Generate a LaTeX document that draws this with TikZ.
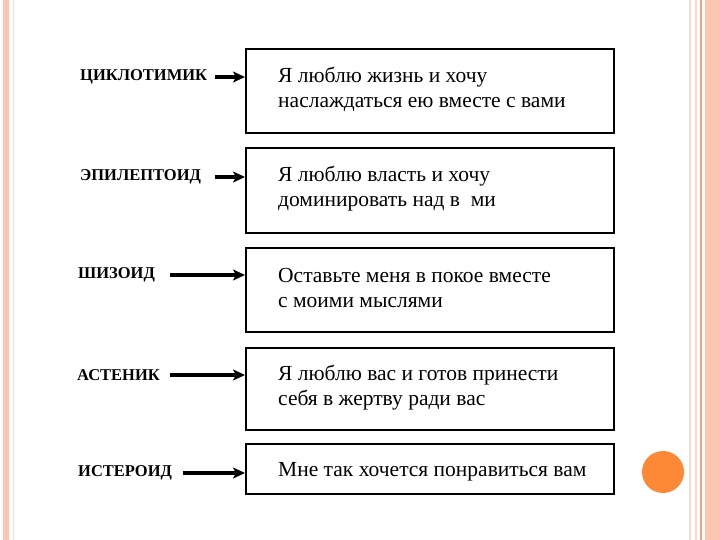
\documentclass[tikz,border=0pt]{standalone}
\usepackage{fontspec}
\setmainfont{Liberation Serif}
\usetikzlibrary{arrows.meta}
\definecolor{peach}{HTML}{FCC6B0}
\definecolor{peachline}{HTML}{F3A385}
\definecolor{paleline}{HTML}{F8DCCB}
\definecolor{dot}{HTML}{FD8835}
\begin{document}
\begin{tikzpicture}[x=1pt,y=-1pt,
  box/.style={draw=black,line width=2.4pt,rectangle,anchor=north west,
    minimum width=368pt,inner sep=0pt},
  txt/.style={anchor=west,inner sep=0pt,align=left,font=\fontsize{21.5}{25}\selectfont},
  lbl/.style={anchor=west,inner sep=0pt,font=\fontsize{16.5}{18}\selectfont\bfseries},
  arr/.style={line width=3.2pt,-{Stealth[length=12pt,width=11pt,inset=3pt]}}]
\useasboundingbox (0,0) rectangle (720,540);
\fill[white] (0,0) rectangle (720,540);
% slide decoration
\fill[peach] (3,0) rectangle (9,540);
\draw[paleline,line width=0.8pt] (13,0) -- (13,540);
\draw[paleline,line width=1.2pt] (690,0) -- (690,540);
\draw[paleline,line width=1.2pt] (696,0) -- (696,540);
\draw[peachline,line width=1.5pt] (701,0) -- (701,540);
\fill[peach] (705,0) rectangle (720,540);
\fill[dot] (663,472) circle (21);
% boxes
\node[box,minimum height=84pt] (b1) at (245,48) {};
\node[box,minimum height=85pt] (b2) at (245,147) {};
\node[box,minimum height=84pt] (b3) at (245,247) {};
\node[box,minimum height=82pt] (b4) at (245,347) {};
\node[box,minimum height=50pt] (b5) at (245,443) {};
\node[txt] (t1) at ([xshift=33pt,yshift=2pt]b1.west) {Я люблю жизнь и хочу\\наслаждаться ею вместе с вами};
\node[txt] (t2) at ([xshift=33pt,yshift=2pt]b2.west) {Я люблю власть и хочу\\доминировать над в\ \ ми};
\node[txt] (t3) at ([xshift=33pt,yshift=2pt]b3.west) {Оставьте меня в покое вместе\\с моими мыслями};
\node[txt] (t4) at ([xshift=33pt,yshift=2pt]b4.west) {Я люблю вас и готов принести\\себя в жертву ради вас};
\node[txt] (t5) at ([xshift=33pt,yshift=-3pt]b5.west) {Мне так хочется понравиться вам};
% labels
\node[lbl] (l1) at (80,77) {ЦИКЛОТИМИК};
\node[lbl] (l2) at (80,177) {ЭПИЛЕПТОИД};
\node[lbl] (l3) at (78,275) {ШИЗОИД};
\node[lbl] (l4) at (77,375) {АСТЕНИК};
\node[lbl] (l5) at (78,473) {ИСТЕРОИД};
\coordinate (s1) at (215,77);
\coordinate (s2) at (215,177);
\coordinate (s3) at (170,275);
\coordinate (s4) at (170,375);
\coordinate (s5) at (183,473);
\foreach \i in {1,...,5}{
  \draw[arr] (s\i) -- (s\i -| b\i.west);
}
\end{tikzpicture}
\end{document}
